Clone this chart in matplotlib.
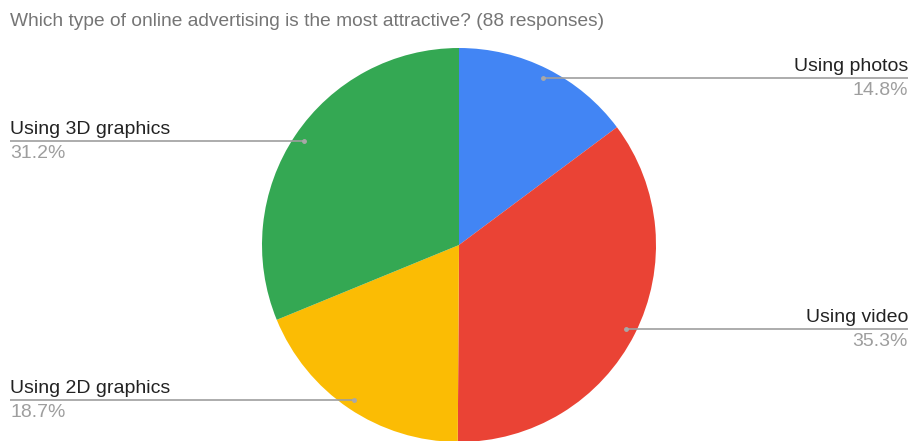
import matplotlib
matplotlib.use("Agg")
import matplotlib.pyplot as plt
import numpy as np

plt.rcParams['font.family'] = ['Liberation Sans', 'DejaVu Sans']

# survey answers, share of responses in percent
labels = ["Using photos", "Using video", "Using 2D graphics", "Using 3D graphics"]
shares = [14.8, 35.3, 18.7, 31.2]
colors = ["#4285f4", "#ea4335", "#fbbc04", "#34a853"]
title = "Which type of online advertising is the most attractive? (88 responses)"

W, H = 909, 441
fig = plt.figure(figsize=(W / 100, H / 100), dpi=100)
ax = fig.add_axes([0, 0, 1, 1])
ax.set_xlim(0, W)
ax.set_ylim(0, H)
ax.set_aspect('equal')
ax.axis('off')

cx, cy, r = 459, H - 245, 197
wedges, _ = ax.pie(shares, colors=colors, startangle=90, counterclock=False,
                   center=(cx, cy), radius=r, wedgeprops=dict(linewidth=0))
ax.set_xlim(0, W)
ax.set_ylim(0, H)

# leader lines from inside each slice out to the side, label above, percent below
for w, lab, val in zip(wedges, labels, shares):
    mid = np.deg2rad((w.theta1 + w.theta2) / 2)
    px = cx + 0.95 * r * np.cos(mid)
    py = cy + 0.95 * r * np.sin(mid)
    right = np.cos(mid) > 0
    ex = W - 1 if right else 10
    ax.plot([px, ex], [py, py], color="#9e9e9e", lw=1.2, solid_capstyle='butt')
    ax.plot(px, py, 'o', color="#a8a8a8", ms=2.5)
    ha = 'right' if right else 'left'
    ax.text(ex, py + 3, lab, ha=ha, va='bottom', fontsize=14, color="#222222")
    ax.text(ex, py - 4, f"{val}%", ha=ha, va='top', fontsize=14, color="#9e9e9e")

ax.text(10, H - 21, title, ha='left', va='center', fontsize=13.8, color="#757575")

fig.savefig("out.png", dpi=100)
